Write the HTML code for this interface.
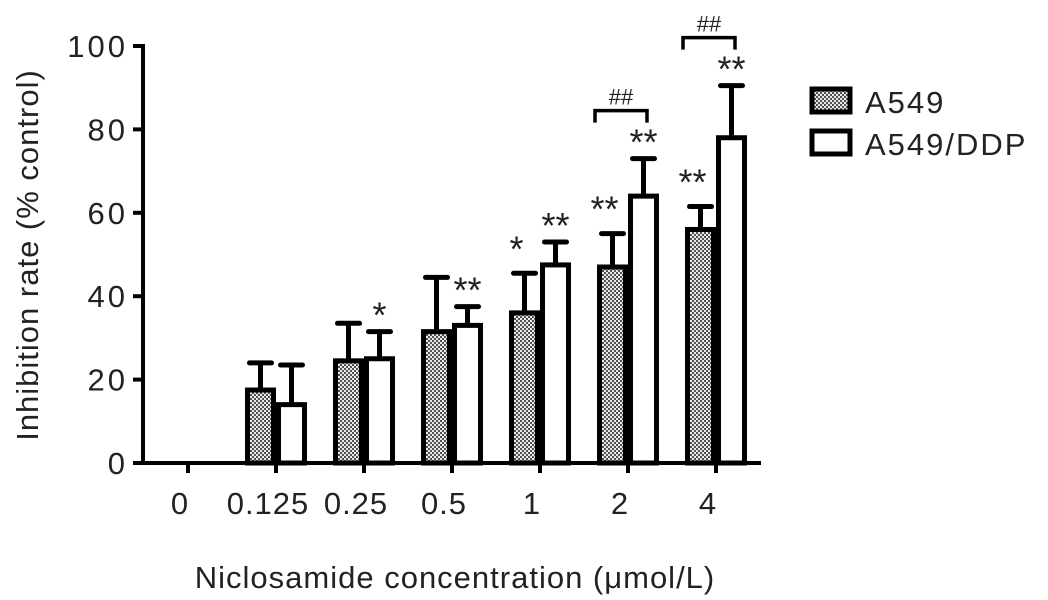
<!DOCTYPE html>
<html><head><meta charset="utf-8"><style>
body{margin:0;background:#fff}
text{font-family:"Liberation Sans",Arial,sans-serif;fill:#222}
</style></head><body>
<svg width="1048" height="595" viewBox="0 0 1048 595" xmlns="http://www.w3.org/2000/svg">
<defs>
<pattern id="dots" width="4" height="4" patternUnits="userSpaceOnUse">
<rect width="4" height="4" fill="#eee"/>
<circle cx="1" cy="1" r="1.1" fill="#444"/><circle cx="3" cy="3" r="1.1" fill="#444"/>
</pattern>
</defs>
<g id="chart"></g>
</svg>
<script>
const categories=["0","0.125","0.25","0.5","1","2","4"];
const a549=[0,17.5,24.5,31.5,36,47,56];
const a549Err=[0,6.5,9,13,9.5,8,5.5];
const ddp=[0,14,25,33,47.5,64,78];
const ddpErr=[0,9.5,6.5,4.5,5.5,9,12.5];
const a549Sig=["","","","","*","**","**"];
const ddpSig=["","","*","**","**","**","**"];
const yTicks=[0,20,40,60,80,100];
const brackets=[5,6];

const NS="http://www.w3.org/2000/svg";
const g=document.getElementById('chart');
const y0=463,y100=46,xAxis0=143;
const ys=v=>y0-(v/100)*(y0-y100);
const xc=i=>188+88*i;
const bw=31;
function mk(t,a,parent){const e=document.createElementNS(NS,t);for(const k in a)e.setAttribute(k,a[k]);(parent||g).appendChild(e);return e;}

let e=mk('line',{x1:xAxis0,y1:y100-2,x2:xAxis0,y2:y0+2,stroke:'#000','stroke-width':4});


e=mk('line',{x1:xAxis0-2,y1:y0,x2:xc(6)+bw+14,y2:y0,stroke:'#000','stroke-width':4});


yTicks.forEach(v=>{
  const t=mk('line',{x1:xAxis0-10,y1:ys(v),x2:xAxis0,y2:ys(v),stroke:'#000','stroke-width':4});
  
  
  const l=mk('text',{x:128,y:ys(v)+11,'text-anchor':'end','font-size':31,'letter-spacing':3});
  l.textContent=v;
  
  
});
categories.forEach((c,i)=>{
  const t=mk('line',{x1:xc(i),y1:y0,x2:xc(i),y2:y0+10,stroke:'#000','stroke-width':4});
  
  
  const l=mk('text',{x:xc(i)-8,y:y0+51,'text-anchor':'middle','font-size':31,'letter-spacing':1});
  l.textContent=c;
  
  
});
function bar(i,v,err,fill,x0,name,sig){
  if(v<=0)return;
  const yt=ys(v),ye=ys(v+err),cx=x0+bw/2;
  const eb=mk('line',{x1:cx,y1:yt,x2:cx,y2:ye,stroke:'#000','stroke-width':5});
  
  
  const cap=mk('line',{x1:cx-11,y1:ye,x2:cx+11,y2:ye,stroke:'#000','stroke-width':5,'stroke-linecap':'round'});
  
  
  const r=mk('rect',{x:x0+2.5,y:yt,width:bw-5,height:y0-yt,fill:fill,stroke:'#000','stroke-width':5});
  
  
  if(sig){
    const s=mk('text',{x:cx-(name==='a549'?8:0),y:ye+(name==='a549'?-12:-4),'text-anchor':'middle','font-size':36});
    s.textContent=sig;
    
    
  }
}
categories.forEach((c,i)=>{
  bar(i,a549[i],a549Err[i],'url(#dots)',xc(i)-bw,'a549',a549Sig[i]);
  bar(i,ddp[i],ddpErr[i],'#fff',xc(i),'a549-ddp',ddpSig[i]);
});
brackets.forEach(i=>{
  const top=ys(ddp[i]+ddpErr[i])-48;
  const p=mk('path',{d:`M${xc(i)-33},${top+12}V${top}H${xc(i)+19}V${top+12}`,fill:'none',stroke:'#000','stroke-width':3.5});
  
  
  const t=mk('text',{x:xc(i)-7,y:top-6,'text-anchor':'middle','font-size':22});
  t.textContent='##';
  
  
});
[["A549","url(#dots)",87],["A549/DDP","#fff",129]].forEach(([n,f,y],k)=>{
  const r=mk('rect',{x:812,y:y+2,width:38,height:23,fill:f,stroke:'#000','stroke-width':5});
  
  
  const t=mk('text',{x:865,y:y+26,'font-size':31,'letter-spacing':2});
  t.textContent=n;
  
  
});
let yt=mk('text',{x:0,y:0,'text-anchor':'middle','font-size':31,'letter-spacing':1,transform:'translate(38,255) rotate(-90)'});
yt.textContent='Inhibition rate (% control)';


let xt=mk('text',{x:455,y:588,'text-anchor':'middle','font-size':31,'letter-spacing':1});
xt.textContent='Niclosamide concentration (μmol/L)';


</script>
</body></html>
